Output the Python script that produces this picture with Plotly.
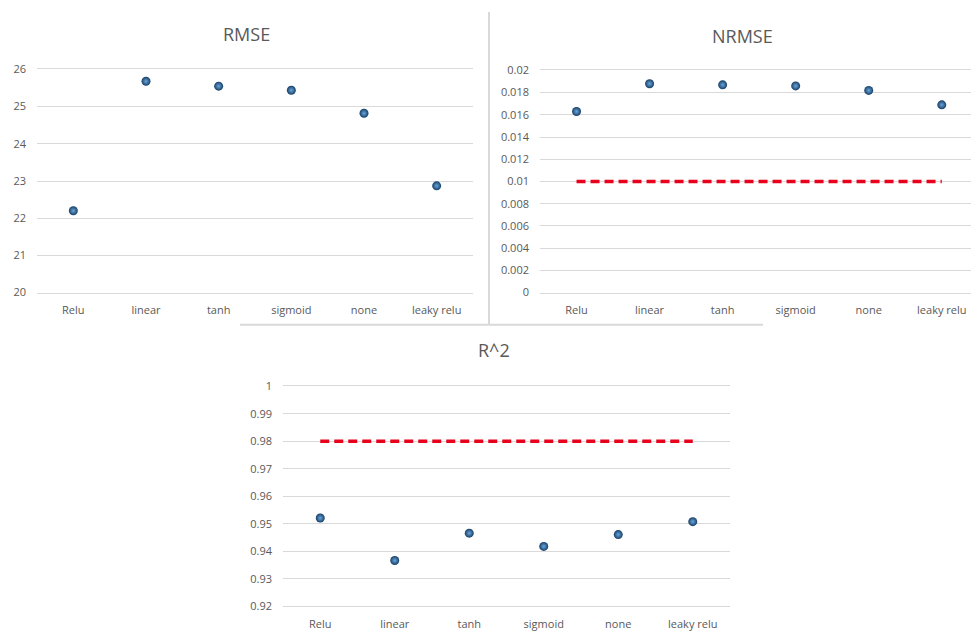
import plotly.graph_objects as go

# Activation functions compared
activations = ["Relu", "linear", "tanh", "sigmoid", "none", "leaky relu"]

# Error / fit metrics per activation
rmse = [22.20, 25.68, 25.55, 25.44, 24.82, 22.87]
nrmse = [0.0163, 0.0188, 0.0187, 0.0186, 0.0182, 0.0169]
r2 = [0.9521, 0.9367, 0.9466, 0.9418, 0.9461, 0.9508]

# Target thresholds
nrmse_target = 0.01
r2_target = 0.98

# Axis tick values and labels
rmse_ticks = [20, 21, 22, 23, 24, 25, 26]
rmse_ticktext = ["20", "21", "22", "23", "24", "25", "26"]
nrmse_ticks = [0, 0.002, 0.004, 0.006, 0.008, 0.01, 0.012, 0.014, 0.016, 0.018, 0.02]
nrmse_ticktext = ["0", "0.002", "0.004", "0.006", "0.008", "0.01", "0.012", "0.014", "0.016", "0.018", "0.02"]
r2_ticks = [0.92, 0.93, 0.94, 0.95, 0.96, 0.97, 0.98, 0.99, 1.0]
r2_ticktext = ["0.92", "0.93", "0.94", "0.95", "0.96", "0.97", "0.98", "0.99", "1"]

W, H = 971, 631
FONT = "Open Sans"
TXT = "#595959"
GRID = "#d9d9d9"

def px_x(p):
    return p / W

def px_y(p):
    return 1 - p / H

marker = dict(
    size=9,
    color="#163f66",
    gradient=dict(type="radial", color="#6aa6dc"),
    line=dict(width=0),
)
target_line = dict(color="#e8001c", width=3.5, dash="9px,5px")

fig = go.Figure()

# RMSE panel
fig.add_trace(go.Scatter(x=activations, y=rmse, mode="markers", marker=marker,
                         xaxis="x", yaxis="y", showlegend=False))
# NRMSE panel
fig.add_trace(go.Scatter(x=activations, y=[nrmse_target] * len(activations), mode="lines",
                         line=target_line, xaxis="x2", yaxis="y2", showlegend=False))
fig.add_trace(go.Scatter(x=activations, y=nrmse, mode="markers", marker=marker,
                         xaxis="x2", yaxis="y2", showlegend=False))
# R^2 panel
fig.add_trace(go.Scatter(x=activations, y=[r2_target] * len(activations), mode="lines",
                         line=target_line, xaxis="x3", yaxis="y3", showlegend=False))
fig.add_trace(go.Scatter(x=activations, y=r2, mode="markers", marker=marker,
                         xaxis="x3", yaxis="y3", showlegend=False))

tickfont = dict(family=FONT, size=11, color=TXT)

def xaxis(domain, anchor, rng):
    # top/bottom frame lines stand in for the gridlines at the range ends
    return dict(domain=domain, anchor=anchor, type="category", range=rng,
                showgrid=False, zeroline=False, showline=True, mirror=True,
                linecolor=GRID, linewidth=1, ticks="",
                tickfont=tickfont, ticklabelstandoff=7, fixedrange=True)

def yaxis(domain, anchor, rng, vals, text):
    return dict(domain=domain, anchor=anchor, range=rng, tickvals=vals, ticktext=text,
                showgrid=True, gridcolor=GRID, gridwidth=1, zeroline=False,
                showline=False, ticks="",
                tickfont=tickfont, ticklabelstandoff=10, fixedrange=True)

fig.update_layout(
    width=W, height=H,
    margin=dict(l=0, r=0, t=0, b=0),
    paper_bgcolor="white", plot_bgcolor="white",
    xaxis=xaxis([px_x(37), px_x(473)], "y", [-0.5, 5.5]),
    yaxis=yaxis([px_y(292), px_y(63)], "x", [20, 26], rmse_ticks, rmse_ticktext),
    xaxis2=xaxis([px_x(540), 1.0], "y2", [-0.5, 5.4]),
    yaxis2=yaxis([px_y(292), px_y(64)], "x2", [0, 0.02], nrmse_ticks, nrmse_ticktext),
    xaxis3=xaxis([px_x(283), px_x(730)], "y3", [-0.5, 5.5]),
    yaxis3=yaxis([px_y(614), px_y(388)], "x3", [0.92, 1.0], r2_ticks, r2_ticktext),
)

titlefont = dict(family=FONT, size=18, color=TXT)
for text, cx, cy in [("RMSE", 246, 27), ("NRMSE", 742, 29), ("R^2", 494, 351)]:
    fig.add_annotation(text=text, x=px_x(cx), y=px_y(cy), xref="paper", yref="paper",
                       showarrow=False, font=titlefont, xanchor="center", yanchor="middle")

# Chart frame separators
border = dict(color="#d9d9d9", width=2)
fig.add_shape(type="line", xref="paper", yref="paper",
              x0=px_x(489), x1=px_x(489), y0=px_y(4), y1=px_y(325), line=border)
fig.add_shape(type="line", xref="paper", yref="paper",
              x0=px_x(240), x1=px_x(763), y0=px_y(325), y1=px_y(325), line=border)

fig.write_html(
    "out.html",
    post_script="document.body.style.margin='0';document.body.style.overflow='hidden';",
)
